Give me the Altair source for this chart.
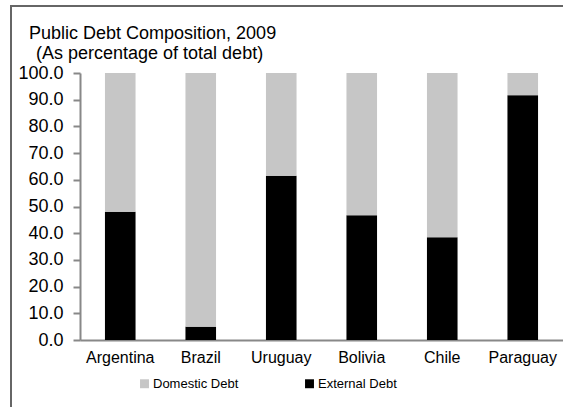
import altair as alt
import pandas as pd

countries = ["Argentina", "Brazil", "Uruguay", "Bolivia", "Chile", "Paraguay"]
external = [48.0, 5.0, 61.5, 46.7, 38.5, 91.7]
domestic = [round(100 - v, 1) for v in external]
series = ["Domestic Debt", "External Debt"]
title_lines = ["Public Debt Composition, 2009", "(As percentage of total debt)"]

rows = []
for c, d, e in zip(countries, domestic, external):
    rows.append({"country": c, "series": "External Debt", "value": e, "ord": 0})
    rows.append({"country": c, "series": "Domestic Debt", "value": d, "ord": 1})
df = pd.DataFrame(rows)

FONT = "Liberation Sans"

bars = alt.Chart(df).mark_bar().encode(
    x=alt.X("country:N", sort=countries, title=None,
            scale=alt.Scale(paddingInner=0.62, paddingOuter=0.31),
            axis=alt.Axis(labelAngle=0, labelFontSize=16, labelFont=FONT,
                          labelColor="#000", labelPadding=9, ticks=False,
                          domainColor="#888", domainWidth=2)),
    y=alt.Y("value:Q", stack="zero", title=None,
            scale=alt.Scale(domain=[0, 100], nice=False),
            axis=alt.Axis(values=list(range(0, 101, 10)), format=".1f",
                          labelFontSize=18, labelFont=FONT, labelColor="#000",
                          labelPadding=10, tickSize=7, tickColor="#888",
                          tickWidth=2, domainColor="#888", domainWidth=2,
                          grid=False)),
    color=alt.Color("series:N", sort=series,
                    scale=alt.Scale(domain=series, range=["#c6c6c6", "#000000"]),
                    legend=alt.Legend(title=None, orient="none", legendX=58,
                                      legendY=304, direction="horizontal",
                                      symbolType="square", symbolSize=80,
                                      symbolStrokeWidth=0, labelFontSize=13,
                                      labelFont=FONT, labelColor="#000",
                                      columnPadding=64, labelOffset=2)),
    order=alt.Order("ord:Q"),
)

frame = alt.Chart(df).mark_rect(fill=None, stroke="#666", strokeWidth=2).encode(
    x=alt.value(-69), x2=alt.value(520), y=alt.value(-67), y2=alt.value(400)
)

t1 = alt.Chart(pd.DataFrame({"t": [title_lines[0]]})).mark_text(
    align="left", baseline="alphabetic", fontSize=18, font=FONT, color="#000"
).encode(text="t:N", x=alt.value(-51), y=alt.value(-34))

t2 = alt.Chart(pd.DataFrame({"t": [title_lines[1]]})).mark_text(
    align="left", baseline="alphabetic", fontSize=18, font=FONT, color="#000"
).encode(text="t:N", x=alt.value(-44), y=alt.value(-14))

chart = alt.layer(frame, bars, t1, t2).properties(
    width=483, height=267,
    autosize="none",
    padding={"left": 80, "top": 73, "right": 0, "bottom": 67},
).configure_view(stroke=None)

chart.save("out.html", embed_options={"renderer": "svg", "actions": False})
